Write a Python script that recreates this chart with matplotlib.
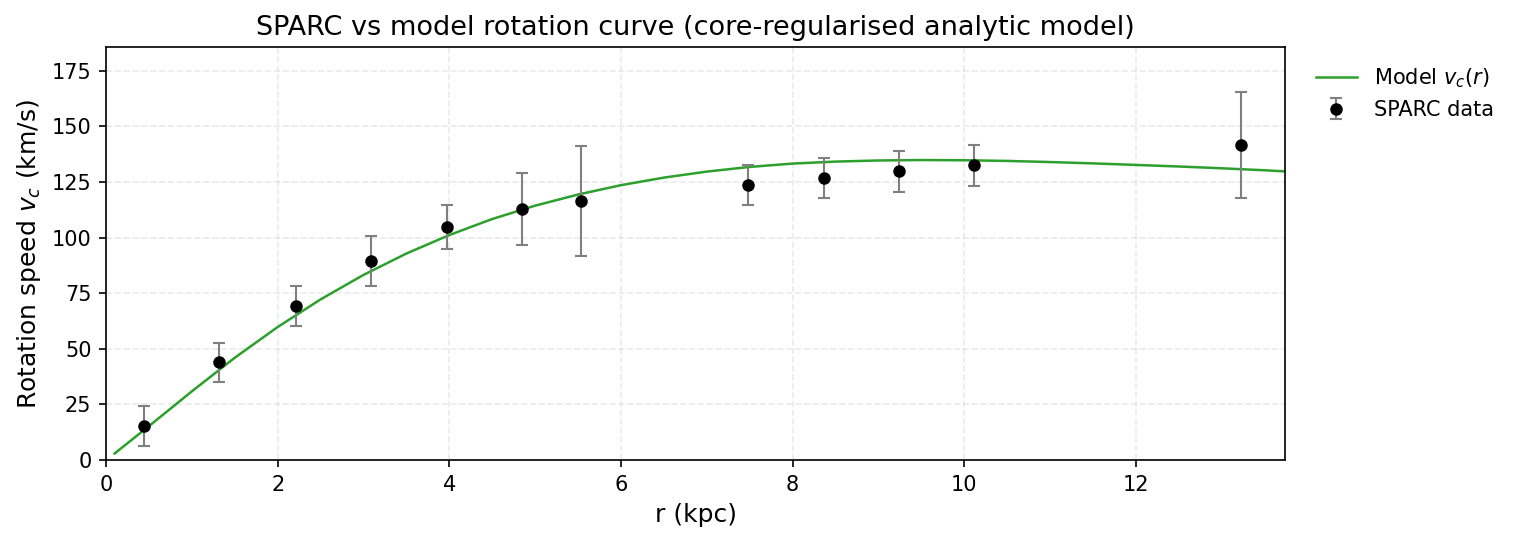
import matplotlib
matplotlib.use("Agg")
import matplotlib.pyplot as plt

r_obs = [0.44, 1.32, 2.21, 3.09, 3.97, 4.85, 5.53, 7.48, 8.37, 9.24, 10.12, 13.23]
v_obs = [15.4, 44.0, 69.1, 89.4, 104.7, 112.8, 116.6, 123.6, 126.6, 129.7, 132.4, 141.5]
v_err = [8.9, 8.8, 9.0, 11.4, 9.7, 16.0, 24.7, 9.1, 9.0, 9.2, 9.1, 23.7]

# model curve, sampled by eye from the chart
r_model = [0.1, 0.5, 1.0, 1.5, 2.0, 2.5, 3.0, 3.5, 4.0, 4.5, 5.0, 5.5, 6.0, 6.5,
           7.0, 7.5, 8.0, 8.5, 9.0, 9.5, 10.0, 10.5, 11.0, 11.5, 12.0, 12.5,
           13.0, 13.5, 13.74]
v_model = [3.0, 15.3, 30.9, 46.0, 59.8, 72.2, 83.2, 92.8, 101.1, 108.3, 114.3,
           119.3, 123.5, 126.9, 129.6, 131.7, 133.2, 134.1, 134.6, 134.8, 134.7,
           134.4, 133.9, 133.3, 132.6, 131.9, 131.1, 130.2, 129.7]

fig = plt.figure(figsize=(1517 / 150, 542 / 150), dpi=150)
ax = fig.add_axes([0.0699, 0.151, 0.7772, 0.762])

ax.plot(r_model, v_model, color='#2ca02c', lw=1.2, label='Model $v_c(r)$')
ax.errorbar(r_obs, v_obs, yerr=v_err, fmt='o', color='black', ms=5,
            ecolor='gray', elinewidth=1, capsize=3, label='SPARC data')

ax.set_xlim(0, 13.74)
ax.set_ylim(0, 185.5)
ax.set_yticks([0, 25, 50, 75, 100, 125, 150, 175])
ax.grid(True, ls='--', alpha=0.25)

ax.set_xlabel('r (kpc)', fontsize=12)
ax.set_ylabel('Rotation speed $v_c$ (km/s)', fontsize=12)
ax.set_title('SPARC vs model rotation curve (core-regularised analytic model)', fontsize=13)

ax.legend(loc='upper left', bbox_to_anchor=(1.01, 1.0), frameon=False, fontsize=10)

fig.savefig('out.png', dpi=150)
